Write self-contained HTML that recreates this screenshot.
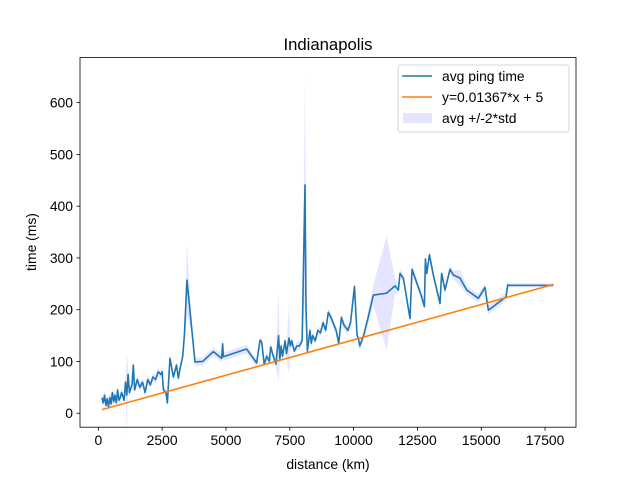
<!DOCTYPE html>
<html><head><meta charset="utf-8"><style>
body{margin:0;background:#fff;}
svg{display:block;font-family:"Liberation Sans","DejaVu Sans",sans-serif;}
</style></head><body>
<svg id="chart" width="640" height="480" viewBox="0 0 640 480" style="position:absolute;left:0;top:0">
<rect width="640" height="480" fill="#fff"/>
<g id="band"></g><g id="lines"></g><g id="axes"></g>
</svg>
<script>
const dist=[142,193,244,296,347,398,449,501,552,603,654,706,757,808,859,911,1013,1064,1116,1167,1218,1321,1372,1423,1526,1628,1731,1833,1936,2038,2141,2243,2346,2448,2499,2551,2653,2704,2807,2940,3063,3135,3217,3304,3371,3473,3627,3787,4088,4506,4832,4871,4898,5811,6202,6333,6399,6497,6600,6702,6753,6856,6958,7061,7112,7163,7215,7317,7368,7471,7522,7574,7676,7779,7881,7984,8096,8137,8189,8291,8342,8394,8496,8599,8701,8804,8906,9009,9111,9316,9419,9521,9624,9777,9880,10034,10136,10188,10239,10380,10546,10772,11296,11621,11754,11817,11949,12209,12288,12667,12772,12812,12864,12969,13122,13384,13449,13579,13776,13906,14168,14429,14885,15147,15278,15973,16036,16060,17822];
const avg=[30,20,35,15,28,12,30,18,40,22,35,20,45,25,30,40,25,60,35,75,40,55,93,45,65,50,60,40,65,55,70,65,80,75,80,45,40,20,106,70,93,68,90,109,150,257,180,99,100,119,106,134,109,124,97,141,138,95,110,100,128,110,95,150,105,130,110,140,115,145,130,140,120,130,130,140,441,200,120,160,135,150,140,160,155,175,160,195,185,160,135,185,170,160,175,245,150,145,130,148,180,228,232,246,238,270,261,183,278,225,206,298,270,306,267,212,270,238,278,267,261,238,222,243,199,225,248,247,247];
const std=[4,4,4,4,4,4,4,10,4,4,4,4,4,4,4,4,4,4,40,4,4,4,4,4,4,4,4,4,4,4,4,4,4,4,4,4,4,4,4,4,4,4,4,4,10,35,10,4,4,4,4,4,4,4,4,4,4,4,4,4,4,4,4,45,4,4,4,4,4,35,4,4,4,4,4,4,108,20,4,4,4,4,4,4,4,4,4,4,4,4,4,4,4,4,4,4,4,4,4,4,6,10,55,8,4,4,4,4,4,4,4,4,4,4,4,4,4,4,4,4,8,4,4,4,4,4,4,2,2];
const slope=0.01367, icpt=5;
const xTicks=[0,2500,5000,7500,10000,12500,15000,17500];
const yTicks=[0,100,200,300,400,500,600];
const L=80,R=576,T=57.6,B=427.2;
const xMin=-717,xMax=18711,yMin=-27,yMax=687;
const X=v=>L+(v-xMin)/(xMax-xMin)*(R-L);
const Y=v=>B-(v-yMin)/(yMax-yMin)*(B-T);
const NS="http://www.w3.org/2000/svg";
function mk(tag,attrs,parent,text){const e=document.createElementNS(NS,tag);for(const k in attrs)e.setAttribute(k,attrs[k]);if(text!==undefined)e.textContent=text;parent.appendChild(e);return e;}
const band=document.getElementById('band'),lines=document.getElementById('lines'),axes=document.getElementById('axes');
let up=dist.map((d,i)=>X(d)+','+Y(avg[i]+2*std[i]));
let lo=dist.map((d,i)=>X(d)+','+Y(avg[i]-2*std[i])).reverse();
const bp=mk('polygon',{points:up.concat(lo).join(' '),fill:'#0000ff',opacity:0.1},band);


const ap=mk('polyline',{points:dist.map((d,i)=>X(d)+','+Y(avg[i])).join(' '),fill:'none',stroke:'#1f77b4','stroke-width':1.6,'stroke-linejoin':'round'},lines);


const x0=dist[0],x1=dist[dist.length-1];
const fl=mk('line',{x1:X(x0),y1:Y(slope*x0+icpt),x2:X(x1),y2:Y(slope*x1+icpt),stroke:'#ff7f0e','stroke-width':1.6},lines);


const fr=mk('rect',{x:L,y:T,width:R-L,height:B-T,fill:'none',stroke:'#000','stroke-width':0.8},axes);


xTicks.forEach(t=>{mk('line',{x1:X(t),x2:X(t),y1:B,y2:B+3.5,stroke:'#000','stroke-width':0.8},axes);
const tx=mk('text',{x:X(t),y:B+18,'font-size':13.9,'text-anchor':'middle'},axes,String(t));

});
yTicks.forEach(t=>{mk('line',{x1:L-3.5,x2:L,y1:Y(t),y2:Y(t),stroke:'#000','stroke-width':0.8},axes);
const tx=mk('text',{x:L-7,y:Y(t)+5,'font-size':13.9,'text-anchor':'end'},axes,String(t));

});
</script>
<svg style="position:absolute;left:0;top:0" width="640" height="480">
<text x="328" y="50" font-size="16.7" text-anchor="middle" font-family="Liberation Sans,sans-serif">Indianapolis</text>
<text x="328" y="469" font-size="13.9" text-anchor="middle" font-family="Liberation Sans,sans-serif">distance (km)</text>
<text x="0" y="0" font-size="13.9" text-anchor="middle" transform="translate(36,242) rotate(-90)" font-family="Liberation Sans,sans-serif">time (ms)</text>
<g font-family="Liberation Sans,sans-serif" font-size="13.9">
<rect x="398" y="65" width="171" height="67" rx="2" fill="#fff" fill-opacity="0.8" stroke="#ccc" stroke-width="0.8"/>
<line x1="402" y1="76" x2="432" y2="76" stroke="#1f77b4" stroke-width="1.6"/>
<text x="442" y="81">avg ping time</text>
<line x1="402" y1="97" x2="432" y2="97" stroke="#ff7f0e" stroke-width="1.6"/>
<text x="442" y="102">y=0.01367*x + 5</text>
<rect x="403" y="113" width="29" height="10" fill="#0000ff" opacity="0.1"/>
<text x="442" y="123">avg +/-2*std</text>
</g>
</svg>
</body></html>
